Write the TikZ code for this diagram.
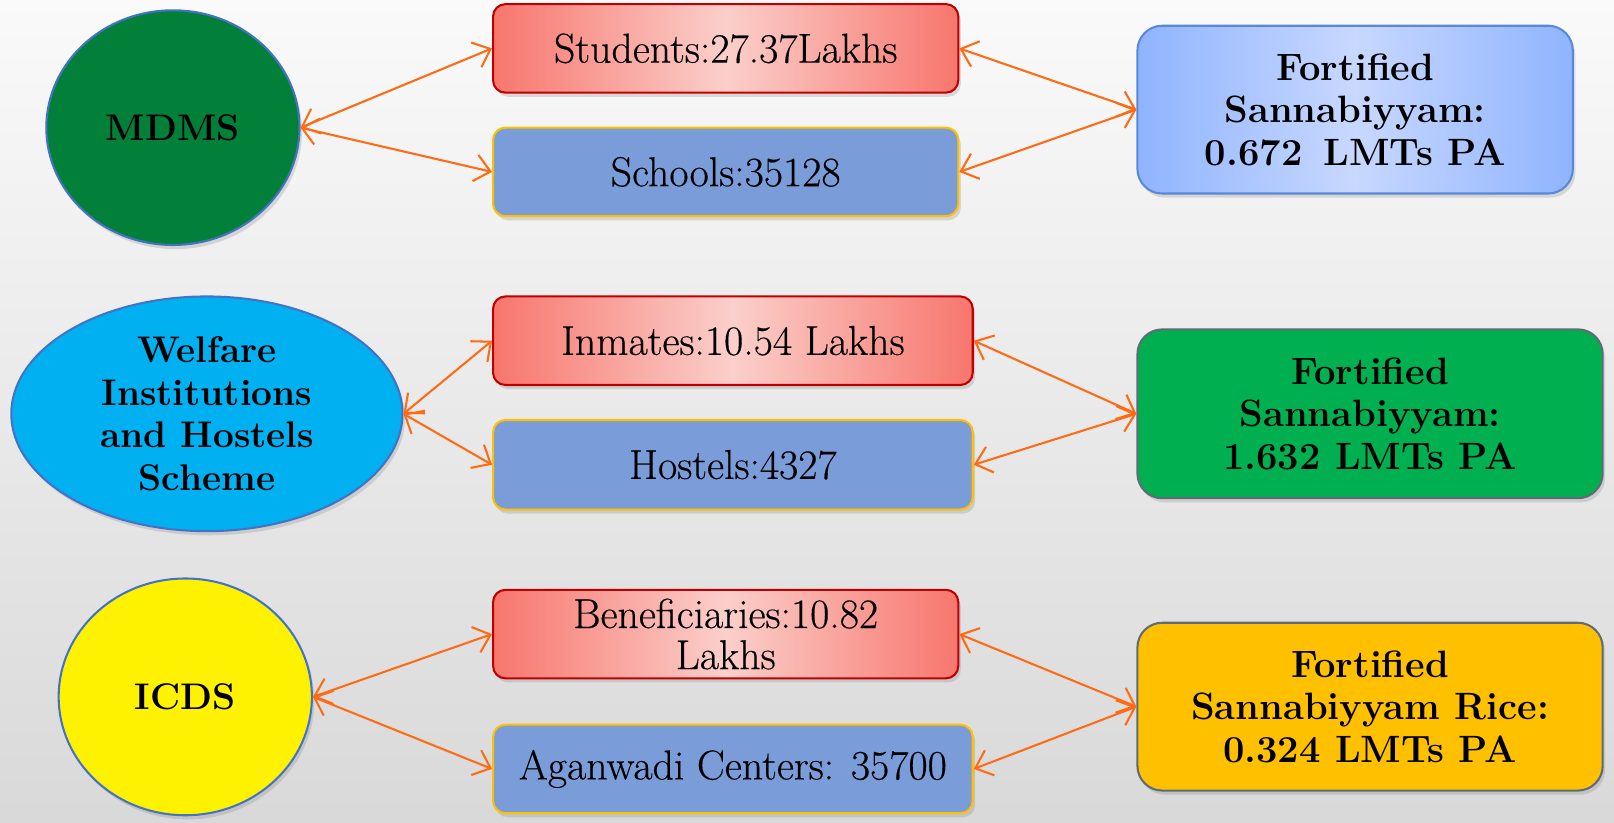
\documentclass[tikz,border=0pt]{standalone}
\usepackage{fontspec}
\newfontfamily\boxfont{Latin Modern Roman}[FakeBold=0.35]
\usetikzlibrary{shapes.geometric,arrows.meta,shadows}
\definecolor{arrowc}{HTML}{FF6A13}
\definecolor{salmon}{HTML}{F7766D}
\definecolor{pinkmid}{HTML}{FBCFCB}
\definecolor{darkred}{HTML}{C00000}
\definecolor{steel}{HTML}{7A9CD8}
\definecolor{gold}{HTML}{FFC000}
\definecolor{lblue}{HTML}{C8D8FF}
\definecolor{mblue}{HTML}{8FB4FE}
\definecolor{bblue}{HTML}{5A88D8}
\definecolor{mdmsg}{HTML}{02803A}
\definecolor{cyanw}{HTML}{00B0F0}
\definecolor{greenf}{HTML}{00B050}
\definecolor{greyb}{HTML}{5F6B77}
\definecolor{ellb}{HTML}{4472C4}
\tikzset{
  shad/.style={drop shadow={shadow xshift=1.2pt,shadow yshift=-2pt,opacity=0.25}},
  redbox/.style={shad,draw=darkred,line width=1pt,rounded corners=6pt,
    left color=salmon,right color=salmon,middle color=pinkmid,
    inner sep=0pt,align=center,font=\boxfont\fontsize{20.3}{20}\selectfont},
  bluebox/.style={shad,draw=gold,line width=1pt,rounded corners=6pt,fill=steel,
    inner sep=0pt,align=center,font=\boxfont\fontsize{20.3}{20}\selectfont},
  fortbox/.style={shad,line width=1pt,rounded corners=12pt,inner sep=0pt,
    align=center,font=\fontsize{18.5}{20.7}\selectfont\bfseries},
  oval/.style={shad,ellipse,draw=ellb,line width=1pt,inner sep=0pt,align=center,
    font=\fontsize{18}{20.8}\selectfont\bfseries},
  link/.style={draw=arrowc,line width=1pt,{Straight Barb[length=7.5pt,width=13pt]}-{Straight Barb[length=7.5pt,width=13pt]}}
}
\begin{document}
\begin{tikzpicture}[x=0.5pt,y=-0.5pt]
\useasboundingbox (0,0) rectangle (1568,799);
\shade[top color=white!98!black,bottom color=black!15] (0,0) rectangle (1568,799);

% row 1
\node[oval,fill=mdmsg,minimum width=123pt,minimum height=114pt] (mdms) at (168,124) {MDMS};
\node[redbox,minimum width=226pt,minimum height=43pt] (stu) at (705,47) {Students:27.37Lakhs};
\node[bluebox,minimum width=226pt,minimum height=43pt] (sch) at (705,167) {Schools:35128};
\node[fortbox,draw=bblue,left color=mblue,right color=mblue,middle color=lblue,
  minimum width=211.5pt,minimum height=81.5pt] (f1) at (1316.5,106.5)
  {Fortified\\Sannabiyyam:\\0.672\hspace{0.55em}LMTs PA};

% row 2
\node[oval,fill=cyanw,minimum width=190pt,minimum height=114pt] (wel) at (201,402)
  {Welfare\\Institutions\\and Hostels\\Scheme};
\node[redbox,minimum width=233pt,minimum height=43pt] (inm) at (712,331) {Inmates:10.54 Lakhs};
\node[bluebox,minimum width=233pt,minimum height=43.5pt] (hos) at (712,451.5) {Hostels:4327};
\node[fortbox,draw=greyb,fill=greenf,minimum width=226pt,minimum height=82pt] (f2) at (1331,402)
  {Fortified\\Sannabiyyam:\\1.632 LMTs PA};

% row 3
\node[oval,fill=yellow,minimum width=123pt,minimum height=115pt] (icds) at (180,677) {ICDS};
\node[redbox,minimum width=226pt,minimum height=43pt] (ben) at (705,616) {Beneficiaries:10.82\\Lakhs};
\node[bluebox,minimum width=233pt,minimum height=43pt] (aga) at (712,747) {Aganwadi Centers: 35700};
\node[fortbox,draw=greyb,fill=gold,minimum width=226pt,minimum height=81.5pt] (f3) at (1331,686.5)
  {Fortified\\Sannabiyyam Rice:\\0.324 LMTs PA};

% connectors
\draw[link] (mdms.east) -- (stu.west);
\draw[link] (mdms.east) -- (sch.west);
\draw[link] (stu.east) -- (f1.west);
\draw[link] (sch.east) -- (f1.west);
\draw[link] (wel.east) -- (inm.west);
\draw[link] (wel.east) -- (hos.west);
\draw[link] (inm.east) -- (f2.west);
\draw[link] (hos.east) -- (f2.west);
\draw[link] (icds.east) -- (ben.west);
\draw[link] (icds.east) -- (aga.west);
\draw[link] (ben.east) -- (f3.west);
\draw[link] (aga.east) -- (f3.west);
\end{tikzpicture}
\end{document}
